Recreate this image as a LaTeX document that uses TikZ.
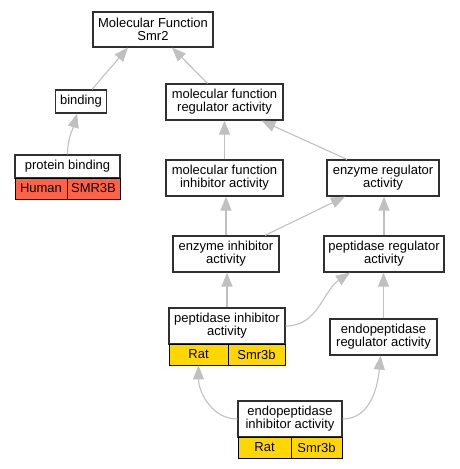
\documentclass[tikz,border=0pt]{standalone}
\usepackage{fontspec}
\setmainfont{Liberation Sans}
\usepackage{tikz}
\usetikzlibrary{arrows.meta}
\definecolor{edgegray}{HTML}{C0C0C0}
\definecolor{boxgray}{HTML}{303030}
\definecolor{human}{HTML}{FF6347}
\definecolor{rat}{HTML}{FFD700}
\tikzset{term/.style = {rectangle,draw=boxgray,line width=1.2pt,fill=white,align=center,inner sep=1pt,
                        font=\fontsize{13}{13}\selectfont},
         cell/.style = {rectangle,draw=black,line width=0.9pt,inner sep=0pt,minimum height=21pt,
                        font=\fontsize{13}{13}\selectfont},
         edge/.style = {draw=edgegray,line width=1.1pt,-{Triangle[length=14pt,width=11pt]}}}

\begin{document}
\begin{tikzpicture}[x=1pt,y=1pt]
                    \useasboundingbox (0,0) rectangle (460,-469);

                    \node [term,minimum width=120pt,minimum height=35pt] (mf)     at (153,-29.5)   {Molecular Function\\Smr2};
                    \node [term,minimum width=51pt,minimum height=23pt]  (bind)   at (81,-101.5)   {binding};
                    \node [term,minimum width=105pt,minimum height=23pt] (pb)     at (67.5,-166.5) {protein binding};
                    \node [cell,fill=human,minimum width=52pt]           (pbH)    at (41,-188.5)   {Human};
                    \node [cell,fill=human,minimum width=53pt]           (pbS)    at (93.5,-188.5) {SMR3B};
                    \node [term,minimum width=117pt,minimum height=36pt] (mfreg)  at (224.5,-102)  {molecular function\\regulator activity};
                    \node [term,minimum width=117pt,minimum height=36pt] (mfinh)  at (224.5,-178)  {molecular function\\inhibitor activity};
                    \node [term,minimum width=112pt,minimum height=36pt] (enzreg) at (383,-178)    {enzyme regulator\\activity};
                    \node [term,minimum width=106pt,minimum height=36pt] (enzinh) at (226,-254)    {enzyme inhibitor\\activity};
                    \node [term,minimum width=120pt,minimum height=36pt] (pepreg) at (384,-254)    {peptidase regulator\\activity};
                    \node [term,minimum width=116pt,minimum height=36pt] (pepinh) at (227,-326)    {peptidase inhibitor\\activity};
                    \node [cell,fill=rat,minimum width=59pt]             (pepRat) at (198.5,-354.5){Rat};
                    \node [cell,fill=rat,minimum width=57pt]             (pepSmr) at (256.5,-354.5){Smr3b};
                    \node [term,minimum width=107pt,minimum height=36pt] (endreg) at (383.5,-337)  {endopeptidase\\regulator activity};
                    \node [term,minimum width=104pt,minimum height=36pt] (endinh) at (290,-419)    {endopeptidase\\inhibitor activity};
                    \node [cell,fill=rat,minimum width=53pt]             (endRat) at (264.5,-447.5){Rat};
                    \node [cell,fill=rat,minimum width=51pt]             (endSmr) at (316.5,-447.5){Smr3b};

                    % is_a links, child to parent
                    \draw [edge] ([xshift=11pt]bind.north) -- ([xshift=-25pt]mf.south);
                    \draw [edge] ([xshift=-17pt]mfreg.north) -- ([xshift=19pt]mf.south);
                    \draw [edge] (pb.north) to [out=90,in=-105] ([xshift=-4pt]bind.south);
                    \draw [edge] (mfinh.north) -- (mfreg.south);
                    \draw [edge] ([xshift=-36pt]enzreg.north) -- ([xshift=37pt]mfreg.south);
                    \draw [edge] (enzinh.north) -- (enzinh.north |- mfinh.south);
                    \draw [edge] ([xshift=39pt]enzinh.north) -- ([xshift=-38pt]enzreg.south);
                    \draw [edge] (pepreg.north) -- (pepreg.north |- enzreg.south);
                    \draw [edge] (pepinh.north) -- (pepinh.north |- enzinh.south);
                    \draw [edge] (pepinh.east) to [out=0,in=-146] ([xshift=-34pt]pepreg.south);
                    \draw [edge] (endreg.north) -- (endreg.north |- pepreg.south);
                    \draw [edge] (endinh.west) to [out=180,in=-90] (pepRat.south);
                    \draw [edge] (endinh.east) to [out=0,in=-95] ([xshift=-3pt]endreg.south);
                \end{tikzpicture}
\end{document}
